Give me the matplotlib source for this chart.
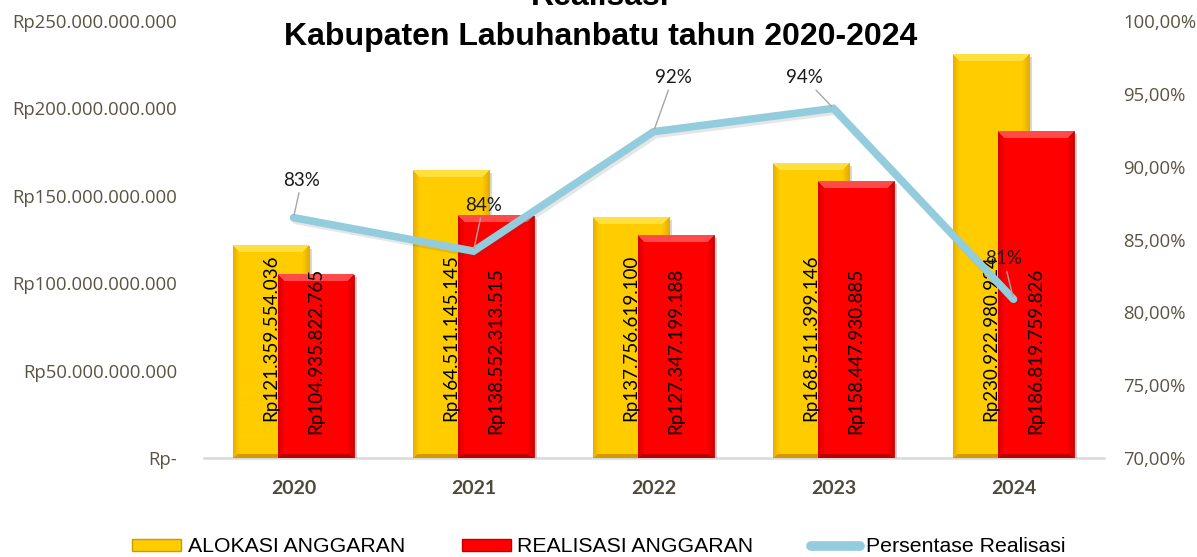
import numpy as np
import matplotlib
matplotlib.use('Agg')
import matplotlib.pyplot as plt
import matplotlib.patheffects as pe
from matplotlib.patches import Patch
from matplotlib.lines import Line2D
from matplotlib.ticker import FuncFormatter, MultipleLocator

# data
years = ['2020', '2021', '2022', '2023', '2024']
alokasi = [121359554036, 164511145145, 137756619100, 168511399146, 230922980924]
realisasi = [104935822765, 138552313515, 127347199188, 158447930885, 186819759826]
persen = [86.5, 84.2, 92.4, 94.0, 80.9]
persen_labels = ['83%', '84%', '92%', '94%', '81%']

# label offsets (points) for the percentage labels
label_offsets = [(6, 27), (7, 33), (14, 39), (-21, 22), (-7, 29)]

TICK_COLOR = '#595443'
arial = ['Liberation Sans', 'DejaVu Sans']


def rp(v, pos=None):
    if v == 0:
        return 'Rp-'
    return 'Rp' + format(int(round(v)), ',').replace(',', '.')


def pct(v, pos=None):
    return ('%.2f%%' % v).replace('.', ',')


def hexrgb(h):
    return np.array([int(h[i:i + 2], 16) / 255 for i in (1, 3, 5)])


def bevel(ax, bars, base, light, dark, depth=7):
    base, light, dark = hexrgb(base), hexrgb(light), hexrgb(dark)
    for b in bars:
        x0, y0, w, h = b.get_x(), b.get_y(), b.get_width(), b.get_height()
        p0 = ax.transData.transform((x0, y0))
        p1 = ax.transData.transform((x0 + w, y0 + h))
        W = max(int(round(p1[0] - p0[0])), 2)
        H = max(int(round(p1[1] - p0[1])), 2)
        jj, ii = np.meshgrid(np.arange(W) + 0.5, np.arange(H) + 0.5)
        side = np.minimum(jj, W - jj)
        top = ii
        bot = H - ii
        img = np.tile(base, (H, W, 1))
        sides = (side < depth) & (side < top)
        t = np.clip(1 - side / depth, 0, 1)[..., None]
        img = np.where(sides[..., None], base * (1 - 0.6 * t) + dark * 0.6 * t, img)
        bm = (bot < 4) & (bot < side)
        img[bm] = dark
        tm = (top < depth) & (top <= side)
        img[tm] = light
        ax.imshow(img, extent=(x0, x0 + w, y0, y0 + h), origin='upper',
                  aspect='auto', interpolation='bilinear', zorder=2.1)


fig = plt.figure(figsize=(11.97, 5.57), dpi=100)
ax = fig.add_axes([203.5 / 1197, 1 - 458 / 557, 900 / 1197, 437 / 557])
ax2 = ax.twinx()

x = np.arange(len(years))
w = 0.42
off = 0.125
shadow = [pe.SimplePatchShadow(offset=(2.5, -2), alpha=0.2), pe.Normal()]
b1 = ax.bar(x - off, alokasi, w, color='#FFCC00', edgecolor='#D9A400', lw=0.6,
            zorder=2, path_effects=shadow)
b2 = ax.bar(x + off, realisasi, w, color='#FF0000', edgecolor='#C00000', lw=0.6,
            zorder=2, path_effects=shadow)

ax.set_xlim(-0.5, 4.5)
ax.set_ylim(0, 250e9)
bevel(ax, b1, '#FFCC00', '#FFE03C', '#D49A00')
bevel(ax, b2, '#FF0000', '#FF4A4A', '#B80000')
ax.set_xlim(-0.5, 4.5)
ax.set_ylim(0, 250e9)

# value labels inside bars
for i in range(len(years)):
    ax.text(x[i] - off, 0.275, rp(alokasi[i]), rotation=90, ha='center', va='center',
            fontsize=13.5, family=['Lato', 'DejaVu Sans'], color='black',
            transform=ax.get_xaxis_transform(), zorder=3)
    ax.text(x[i] + off, 0.245, rp(realisasi[i]), rotation=90, ha='center', va='center',
            fontsize=13.5, family=['Lato', 'DejaVu Sans'], color='black',
            transform=ax.get_xaxis_transform(), zorder=3)

ax.yaxis.set_major_locator(MultipleLocator(50e9))
ax.yaxis.set_major_formatter(FuncFormatter(rp))
ax.set_xticks(x)
ax.set_xticklabels(years, fontsize=14, fontweight='bold', color='#4E4A3A',
                   family=['Lato', 'DejaVu Sans'])
ax.tick_params(axis='x', length=0, pad=16)
ax.tick_params(axis='y', length=0, pad=19, labelsize=13.3, labelcolor=TICK_COLOR)
for lab in ax.get_yticklabels():
    lab.set_family(['Open Sans', 'DejaVu Sans'])
for s in ['top', 'left', 'right']:
    ax.spines[s].set_visible(False)
ax.spines['bottom'].set_color('#D9D9D9')
ax.spines['bottom'].set_linewidth(1.8)
ax.spines['bottom'].set_zorder(1)

# percentage line
ax2.plot(x, persen, color='#93CDDD', lw=5.5, solid_joinstyle='miter',
         solid_capstyle='round', zorder=5,
         path_effects=[pe.SimpleLineShadow(offset=(1.5, -2), alpha=0.13, shadow_color='#404040'),
                       pe.Normal()])
for i in range(len(years)):
    ax2.annotate(persen_labels[i], (x[i], persen[i]), xytext=label_offsets[i],
                 textcoords='offset points', ha='center', va='center', fontsize=13.5,
                 family=['Lato', 'DejaVu Sans'], color='#1A1A1A', zorder=6,
                 arrowprops=dict(arrowstyle='-', color='#A6A6A6', lw=1,
                                 shrinkA=1, shrinkB=2))
ax2.set_ylim(70, 100)
ax2.yaxis.set_major_locator(MultipleLocator(5))
ax2.yaxis.set_major_formatter(FuncFormatter(pct))
ax2.tick_params(axis='y', length=0, pad=14, labelsize=13.3, labelcolor=TICK_COLOR)
for lab in ax2.get_yticklabels():
    lab.set_family(['Open Sans', 'DejaVu Sans'])
for s in ax2.spines.values():
    s.set_visible(False)

# title
fig.text(0.5015, 1 - 5 / 557, 'Realisasi', ha='center', va='baseline', fontsize=23,
         fontweight='bold', family=arial)
fig.text(0.5015, 1 - 45 / 557, 'Kabupaten Labuhanbatu tahun 2020-2024', ha='center',
         va='baseline', fontsize=23, fontweight='bold', family=arial)

# legend
handles = [Patch(facecolor='#FFCC00', edgecolor='#C89B00'),
           Patch(facecolor='#FF0000', edgecolor='#C00000'),
           Line2D([], [], color='#93CDDD', lw=7, solid_capstyle='round')]
labels = ['ALOKASI ANGGARAN', 'REALISASI ANGGARAN', 'Persentase Realisasi']
fig.legend(handles, labels, loc='center', bbox_to_anchor=(599 / 1197, 1 - 547 / 557),
           ncol=3, frameon=False, prop={'family': arial, 'size': 15.3},
           handlelength=2.3, handleheight=0.55, handletextpad=0.3, columnspacing=2.7)

fig.savefig('out.png', dpi=100)
